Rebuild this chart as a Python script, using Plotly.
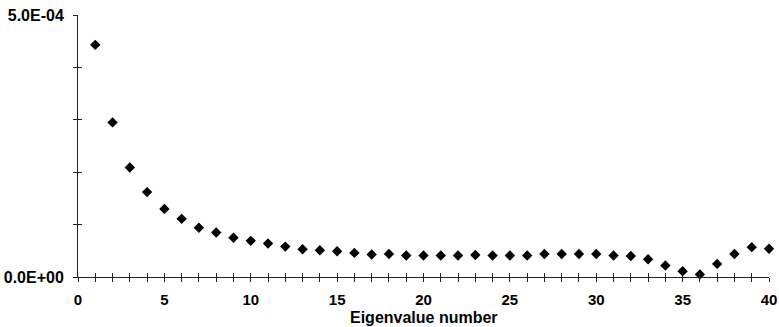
import plotly.graph_objects as go

eigen_number = list(range(1, 41))
eigen_value = [4.43e-4, 2.95e-4, 2.09e-4, 1.62e-4, 1.30e-4, 1.11e-4, 0.94e-4, 0.85e-4, 0.75e-4, 0.69e-4,
               0.64e-4, 0.58e-4, 0.53e-4, 0.51e-4, 0.49e-4, 0.46e-4, 0.43e-4, 0.44e-4, 0.41e-4, 0.41e-4,
               0.41e-4, 0.41e-4, 0.42e-4, 0.41e-4, 0.41e-4, 0.41e-4, 0.44e-4, 0.44e-4, 0.44e-4, 0.44e-4,
               0.41e-4, 0.40e-4, 0.34e-4, 0.22e-4, 0.11e-4, 0.05e-4, 0.25e-4, 0.44e-4, 0.57e-4, 0.54e-4]

y_tickvals = [0, 1e-4, 2e-4, 3e-4, 4e-4, 5e-4]
y_ticktext = ["<b>0.0E+00</b>", "", "", "", "", "<b>5.0E-04</b>"]
x_tickvals = list(range(0, 41))
x_ticktext = ["<b>%d</b>" % v if v % 5 == 0 else "" for v in x_tickvals]
x_title = "Eigenvalue number"

font = "Liberation Sans, Arial, sans-serif"

fig = go.Figure()
fig.add_trace(go.Scatter(x=eigen_number, y=eigen_value, mode="markers",
                         marker=dict(symbol="diamond", size=8, color="black"),
                         cliponaxis=False, showlegend=False, hoverinfo="skip"))
# invisible trace for overlay axes (inside ticks)
fig.add_trace(go.Scatter(x=[0], y=[0], xaxis="x2", yaxis="y2", mode="markers",
                         marker=dict(opacity=0), showlegend=False, hoverinfo="skip"))

fig.update_layout(
    width=779, height=327,
    margin=dict(l=78, r=10, t=15, b=50),
    paper_bgcolor="white", plot_bgcolor="white",
    font=dict(family=font, color="black", size=15),
    xaxis=dict(range=[0, 40], tickvals=x_tickvals, ticktext=x_ticktext, automargin=False,
               ticks="outside", ticklen=4, tickwidth=1, tickcolor="#222",
               showline=True, linecolor="#222", linewidth=1, showgrid=False, zeroline=False,
               tickfont=dict(family=font, size=15), ticklabelstandoff=5),
    yaxis=dict(range=[0, 5e-4], tickvals=y_tickvals, ticktext=y_ticktext, automargin=False,
               ticks="outside", ticklen=4, tickwidth=1, tickcolor="#222",
               showline=True, linecolor="#222", linewidth=1, showgrid=False, zeroline=False,
               tickfont=dict(family=font, size=16), ticklabelstandoff=6),
    xaxis2=dict(range=[0, 40], overlaying="x", anchor="y", side="bottom", tickvals=x_tickvals,
                automargin=False,
                ticks="inside", ticklen=4, tickwidth=1, tickcolor="#222",
                showticklabels=False, showline=False, showgrid=False, zeroline=False),
    yaxis2=dict(range=[0, 5e-4], overlaying="y", anchor="x", side="left", tickvals=y_tickvals,
                automargin=False,
                ticks="inside", ticklen=4, tickwidth=1, tickcolor="#222",
                showticklabels=False, showline=False, showgrid=False, zeroline=False),
    annotations=[dict(text="<b>%s</b>" % x_title, x=0.5, xref="paper", y=0, yref="paper",
                      xanchor="center", yanchor="middle", yshift=-40, showarrow=False,
                      font=dict(family=font, size=16, color="black"))],
)

fig.write_html("out.html", config={"displayModeBar": False},
               post_script="document.body.style.margin='0';")
